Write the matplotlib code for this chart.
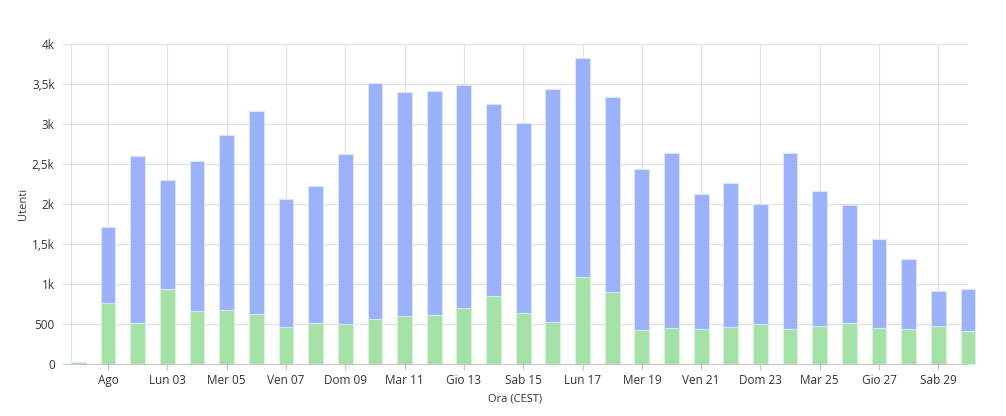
import numpy as np
import matplotlib
matplotlib.use("Agg")
import matplotlib.pyplot as plt

plt.rcParams['font.family'] = ['Open Sans', 'DejaVu Sans']

# giorni: 31 luglio -> 30 agosto
days = list(range(31))
green = [25, 762, 517, 937, 658, 679, 625, 462, 512, 500, 562, 604, 617, 700, 846,
         637, 529, 1092, 900, 425, 454, 437, 467, 496, 437, 475, 512, 450, 437, 471, 417]
total = [25, 1717, 2596, 2300, 2537, 2862, 3162, 2067, 2229, 2621, 3508, 3404, 3408, 3483, 3250,
         3008, 3442, 3821, 3342, 2442, 2637, 2125, 2267, 2004, 2637, 2167, 1987, 1562, 1312, 912, 937]
blue = [t - g for t, g in zip(total, green)]
tick_pos = [1, 3, 5, 7, 9, 11, 13, 15, 17, 19, 21, 23, 25, 27, 29]
tick_labels = ['Ago', 'Lun 03', 'Mer 05', 'Ven 07', 'Dom 09', 'Mar 11', 'Gio 13', 'Sab 15',
               'Lun 17', 'Mer 19', 'Ven 21', 'Dom 23', 'Mar 25', 'Gio 27', 'Sab 29']
y_ticks = [0, 500, 1000, 1500, 2000, 2500, 3000, 3500, 4000]
y_labels = ['0', '500', '1k', '1,5k', '2k', '2,5k', '3k', '3,5k', '4k']

fig = plt.figure(figsize=(10.06, 4.16), dpi=100)
ax = fig.add_axes([63 / 1006, 52 / 416, 905 / 1006, 320 / 416])

ax.bar(days, green, width=0.5, color='#a3e1a6', edgecolor='#d8f3d9', linewidth=0.8,
       zorder=3, clip_on=False)
# blue only where there is something to stack
bd = [d for d, b in zip(days, blue) if b > 0]
bb = [b for b in blue if b > 0]
bg = [g for g, b in zip(green, blue) if b > 0]
ax.bar(bd, bb, bottom=bg, width=0.5, color='#9bb2fa', edgecolor='#dbe4fd',
       linewidth=0.8, zorder=3, clip_on=False)

ax.set_xlim(-0.52, 30)
ax.set_ylim(0, 4000)
ax.set_xticks(tick_pos)
ax.set_xticklabels(tick_labels)
ax.set_yticks(y_ticks)
ax.set_yticklabels(y_labels)

ax.grid(True, color='#e0e0e0', linewidth=0.8, zorder=0)
ax.axvline(-0.25, color='#e0e0e0', linewidth=0.8, zorder=0)
for s in ['top', 'right', 'left']:
    ax.spines[s].set_visible(False)
ax.spines['bottom'].set_color('#c8c8c8')
ax.spines['bottom'].set_linewidth(0.8)
ax.spines['bottom'].set_zorder(4)

ax.tick_params(axis='y', length=0, pad=6, labelsize=8.5, labelcolor='#333333')
ax.tick_params(axis='x', length=4, color='#c8c8c8', pad=3, labelsize=8.5, labelcolor='#333333')

ax.set_ylabel('Utenti', fontsize=8, color='#333333', labelpad=2)
ax.set_xlabel('Ora (CEST)', fontsize=8, color='#333333', labelpad=5)

fig.savefig('out.png', dpi=100)
